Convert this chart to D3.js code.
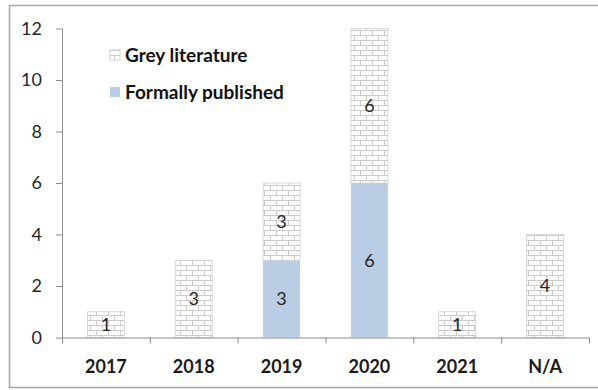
<!DOCTYPE html>
<html lang="en">
	<head>
		<meta charset="utf-8">
		<title>publications by year</title>
		<script type="text/javascript" src="https://d3js.org/d3.v7.min.js"></script>
		<style type="text/css">
            body{margin:0;background:#fff;font-family:Lato, "Open Sans", sans-serif;}
		</style>
	</head>
	<body>
    <div id="chart1"></div>
		<script type="text/javascript">
            var years = ["2017","2018","2019","2020","2021","N/A"]
            var formallyPublished = [0,0,3,6,0,0]
            var greyLiterature = [1,3,3,6,1,4]
            var yTicks = [0,2,4,6,8,10,12]
            var seriesNames = ["Grey literature","Formally published"]

            var W = 598, H = 390
            var plotL = 62, plotR = 589, plotT = 28.5, plotB = 337.5

            var svg = d3.select("#chart1").append("svg")
                        .attr("width",W).attr("height",H)

            // brick pattern for grey literature
            var defs = svg.append("defs")
            var pat = defs.append("pattern")
                        .attr("id","brick")
                        .attr("patternUnits","userSpaceOnUse")
                        .attr("width",12).attr("height",10)
            pat.append("rect").attr("width",12).attr("height",10).attr("fill","#fff")
            pat.append("path")
                .attr("d","M0,0.5H12M0,5.5H12M0.5,0V5M6.5,5V10")
                .attr("stroke","#cbcbcb").attr("stroke-width",1).attr("fill","none")

            // outer frame
            svg.append("rect").attr("x",9.5).attr("y",5.5).attr("width",W).attr("height",382)
                .attr("fill","none").attr("stroke","#a6a6a6").attr("stroke-width",1.5)

            var xScale = d3.scaleBand().domain(years).range([plotL,plotR]).paddingInner(0).paddingOuter(0)
            var yScale = d3.scaleLinear().domain([0,12]).range([plotB,plotT])
            var barW = 37

            var data = years.map(function(y,i){
                return {year:y, fp:formallyPublished[i], grey:greyLiterature[i]}
            })

            // formally published (bottom)
            svg.selectAll("rect.fp").data(data.filter(function(d){return d.fp>0})).enter()
                .append("rect").attr("class","fp")
                .attr("x",function(d){return xScale(d.year)+xScale.bandwidth()/2-barW/2})
                .attr("y",function(d){return yScale(d.fp)})
                .attr("width",barW)
                .attr("height",function(d){return yScale(0)-yScale(d.fp)})
                .attr("fill","#b9cde5")

            // grey literature (stacked on top)
            svg.selectAll("rect.grey").data(data).enter()
                .append("rect").attr("class","grey")
                .attr("x",function(d){return xScale(d.year)+xScale.bandwidth()/2-barW/2})
                .attr("y",function(d){return yScale(d.fp+d.grey)})
                .attr("width",barW)
                .attr("height",function(d){return yScale(d.fp)-yScale(d.fp+d.grey)})
                .attr("fill","url(#brick)")
                .attr("stroke","#d0d0d0").attr("stroke-width",0.8)

            // data labels
            var labelFont = "Lato, 'Open Sans', sans-serif"
            svg.selectAll("text.fpl").data(data.filter(function(d){return d.fp>0})).enter()
                .append("text").attr("class","fpl")
                .attr("x",function(d){return xScale(d.year)+xScale.bandwidth()/2})
                .attr("y",function(d){return yScale(d.fp/2)})
                .attr("dy","0.36em").attr("text-anchor","middle")
                .attr("font-size",18).attr("fill","#262626")
                .text(function(d){return d.fp})
            svg.selectAll("text.gl").data(data).enter()
                .append("text").attr("class","gl")
                .attr("x",function(d){return xScale(d.year)+xScale.bandwidth()/2})
                .attr("y",function(d){return yScale(d.fp+d.grey/2)})
                .attr("dy","0.36em").attr("text-anchor","middle")
                .attr("font-size",18).attr("fill","#262626")
                .text(function(d){return d.grey})

            // y axis
            var yAxis = d3.axisLeft(yScale).tickValues(yTicks).tickSize(6).tickPadding(14)
            var gy = svg.append("g").attr("transform","translate("+plotL+",0)").call(yAxis)
            gy.select(".domain").attr("stroke","#8c8c8c").attr("d","M0.5,"+plotT+"V"+plotB)
            gy.selectAll(".tick line").attr("stroke","#8c8c8c")
            gy.selectAll("text").attr("font-size",18).attr("font-family",labelFont).attr("fill","#262626")

            // x axis
            var gx = svg.append("g").attr("transform","translate(0,"+plotB+")")
            gx.append("line").attr("x1",plotL).attr("x2",plotR).attr("y1",0.5).attr("y2",0.5)
                .attr("stroke","#8c8c8c")
            gx.selectAll("line.tk").data(years.concat(["end"])).enter()
                .append("line").attr("class","tk")
                .attr("x1",function(d,i){return i<years.length ? xScale(d)+0.5 : plotR+0.5})
                .attr("x2",function(d,i){return i<years.length ? xScale(d)+0.5 : plotR+0.5})
                .attr("y1",0).attr("y2",6).attr("stroke","#8c8c8c")
            gx.selectAll("text").data(years).enter()
                .append("text")
                .attr("x",function(d){return xScale(d)+xScale.bandwidth()/2})
                .attr("y",35.5).attr("text-anchor","middle")
                .attr("font-size",18).attr("font-weight","bold").attr("fill","#1a1a1a")
                .text(function(d){return d})

            // legend
            var leg = svg.append("g")
            seriesNames.forEach(function(name,i){
                var ly = 55 + i*37
                leg.append("rect").attr("x",110).attr("y",ly-5).attr("width",10).attr("height",10)
                    .attr("fill", i==0 ? "url(#brick)" : "#b9cde5")
                    .attr("stroke", i==0 ? "#d0d0d0" : "none")
                leg.append("text").attr("x",125).attr("y",ly).attr("dy","0.36em")
                    .attr("font-size",19).attr("font-weight","bold").attr("fill","#111")
                    .text(name)
            })
		</script>
	</body>
</html>
